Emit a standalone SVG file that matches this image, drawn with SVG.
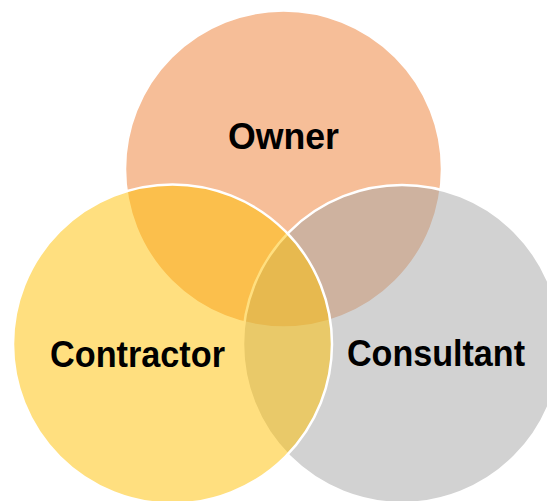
<svg xmlns="http://www.w3.org/2000/svg" width="547" height="501" viewBox="0 0 547 501">
  <style>
    .ring { stroke: #FFFFFF; stroke-width: 2.5; fill-opacity: 0.5; }
    .label { font-family: "Liberation Sans", Arial, sans-serif; font-weight: bold; font-size: 36px; fill: #000000; text-anchor: middle; }
  </style>
  <rect width="547" height="501" fill="#FFFFFF"/>
  <g id="owner">
    <circle class="ring" cx="283.5" cy="169" r="158.5" fill="#ED7D31"/>
  </g>
  <g id="consultant">
    <circle class="ring" cx="402" cy="344" r="159" fill="#A5A5A5"/>
  </g>
  <g id="contractor">
    <circle class="ring" cx="172.5" cy="344" r="159.5" fill="#FFC000"/>
  </g>
  <g id="labels">
    <text class="label" x="283.5" y="149" textLength="111" lengthAdjust="spacingAndGlyphs">Owner</text>
    <text class="label" x="137.5" y="366.5" textLength="175" lengthAdjust="spacingAndGlyphs">Contractor</text>
    <text class="label" x="436" y="365.5" textLength="178" lengthAdjust="spacingAndGlyphs">Consultant</text>
  </g>
</svg>
